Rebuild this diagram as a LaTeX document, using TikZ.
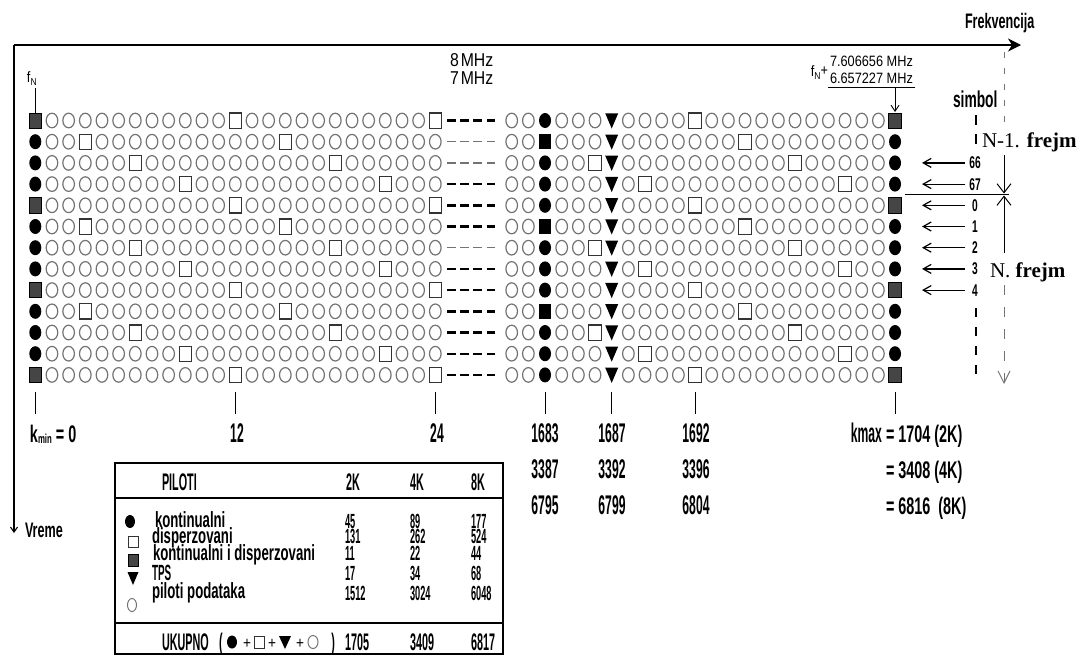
\documentclass[tikz,border=0pt]{standalone}
\usepackage{fontspec}
\setmainfont{Liberation Serif}
\newfontfamily\cnA[FakeStretch=0.45]{Liberation Sans}
\newfontfamily\cnB[FakeStretch=0.6]{Liberation Sans}
\newfontfamily\nar[FakeStretch=0.85]{Liberation Sans}
\usetikzlibrary{arrows.meta}
\newcommand\fA[1]{\cnA\bfseries\fontsize{#1}{#1}\selectfont}
\newcommand\fB[1]{\cnB\bfseries\fontsize{#1}{#1}\selectfont}
\newcommand\fN[1]{\nar\fontsize{#1}{#1}\selectfont}
\definecolor{dgray}{rgb}{0.27,0.27,0.27}
\definecolor{cgray}{rgb}{0.45,0.45,0.45}
\newcommand\pData[2]{\draw[cgray,line width=1.2pt] (#1,#2) ellipse [x radius=5.8pt, y radius=7.3pt];}
\newcommand\pCont[2]{\fill[black] (#1,#2) ellipse [x radius=6pt, y radius=7.5pt];}
\newcommand\pScat[2]{\draw[black!80,line width=1.2pt,fill=white] (#1-6.2,#2-7.6) rectangle (#1+6.2,#2+7.6);}
\newcommand\pBoth[2]{\draw[black,line width=0.8pt,fill=dgray] (#1-6.3,#2-7.6) rectangle (#1+6.3,#2+7.6);}
\newcommand\pBlk[2]{\fill[black] (#1-6.3,#2-7.6) rectangle (#1+6.3,#2+7.6);}
\newcommand\pTps[2]{\fill[black] (#1-6.5,#2-7.2) -- (#1+6.5,#2-7.2) -- (#1,#2+8) -- cycle;}
\begin{document}
\begin{tikzpicture}[x=1pt,y=-1pt,
  lbl/.style={inner sep=0pt,outer sep=0pt},
  axis/.style={line width=1.2pt},
  tick/.style={line width=1pt},
  barb/.style={-{Straight Barb[length=8pt,width=9pt]}},
  bigbarb/.style={-{Straight Barb[length=9pt,width=14pt]}},
  boldgap/.style={line width=2.4pt,dash pattern=on 8.5pt off 4.7pt},
  thingap/.style={line width=1.2pt,cgray,dash pattern=on 8.5pt off 4.7pt}]
\useasboundingbox (0,0) rectangle (1088,657);
\fill[white] (0,0) rectangle (1088,657);

% axes
\coordinate (o) at (14,45);
\coordinate (fx) at (1021,45);
\coordinate (ty) at (14,533);
\draw[axis,-{Stealth[length=13pt,width=13pt,inset=4pt]}] (o) -- (fx);
\draw[line width=1.1pt,-{Straight Barb[length=5pt,width=7pt]}] (o) -- (ty);
\node[lbl,anchor=base west,font=\fB{21}] (frek) at (965,28) {Frekvencija};
\node[lbl,anchor=base west,font=\fB{21}] (vreme) at (25,537) {Vreme};

% grid
\foreach \i in {0,...,12}{
  \pgfmathtruncatemacro\p{mod(\i,4)}
  \pgfmathsetmacro\yy{120.5+21.2*\i}
  \pgfmathtruncatemacro\tp{3*\p}
  \foreach \k in {0,...,24}{
    \pgfmathsetmacro\xx{35.3+16.667*\k}
    \pgfmathtruncatemacro\m{mod(\k,12)}
    \ifnum\k=0
      \ifnum\p=0 \pBoth{\xx}{\yy}\else\pCont{\xx}{\yy}\fi
    \else
      \ifnum\m=\tp \pScat{\xx}{\yy}\else\pData{\xx}{\yy}\fi
    \fi
  }
  \foreach \j in {0,...,23}{
    \pgfmathsetmacro\xx{511.7+16.667*\j}
    \pgfmathtruncatemacro\m{mod(\j+1,12)}
    \ifnum\j=2
      \ifnum\p=1 \pBlk{\xx}{\yy}\else\pCont{\xx}{\yy}\fi
    \else\ifnum\j=6
      \pTps{\xx}{\yy}
    \else\ifnum\j=23
      \ifnum\p=0 \pBoth{\xx}{\yy}\else\pCont{\xx}{\yy}\fi
    \else
      \ifnum\m=\tp \pScat{\xx}{\yy}\else\pData{\xx}{\yy}\fi
    \fi\fi\fi
  }
}
\foreach \i in {0,3,4,5,7,8,9,10,11,12}{
  \pgfmathsetmacro\yy{120.5+21.2*\i}
  \draw[boldgap] (447,\yy) -- (495.5,\yy);
}
\foreach \i in {1,2,6}{
  \pgfmathsetmacro\yy{120.5+21.2*\i}
  \draw[thingap] (447,\yy) -- (495.5,\yy);
}

% fN left
\node[lbl,anchor=base west,font=\fN{15}] (fnl) at (27,82) {f\raisebox{-3pt}{\fontsize{10}{10}\selectfont N}};
\coordinate (fna) at (35.3,88);
\coordinate (fnb) at (35.3,113);
\draw[tick] (fna) -- (fnb);

% MHz
\node[lbl,anchor=base west,font=\fN{18.6}] (m8) at (450,66.5) {8\hspace{2pt}MHz};
\node[lbl,anchor=base west,font=\fN{18.6}] (m7) at (450,84.5) {7\hspace{2pt}MHz};
\node[lbl,anchor=base east,font=\fN{15}] (fnr) at (828,76) {f\raisebox{-3pt}{\fontsize{10}{10}\selectfont N}\raisebox{1pt}{+}};
\node[lbl,anchor=base west,font=\fN{15}] (fa) at (830,66.5) {7.606656 MHz};
\node[lbl,anchor=base west,font=\fN{15}] (fb) at (830,83) {6.657227 MHz};
\coordinate (ula) at (828,87.5);
\coordinate (ulb) at (915,87.5);
\coordinate (ulc) at (895,87.5);
\coordinate (uld) at (895,112);
\draw[tick] (ula) -- (ulb);
\draw[line width=0.9pt,-{Straight Barb[length=6pt,width=8pt]}] (ulc) -- (uld);

% ticks and labels
\foreach \x/\n in {35.3/t0,235.3/t12,435.3/t24,545/t1683,611.7/t1687,695/t1692,895/t1704}{
  \coordinate (\n a) at (\x,392);
  \coordinate (\n b) at (\x,414);
  \draw[tick] (\n a) -- (\n b);
}
\node[lbl,anchor=base west,font=\fB{24}] (kmin) at (30,442) {k\raisebox{-1.5pt}{\fontsize{13}{13}\selectfont min} = 0};
\node[lbl,anchor=base,font=\fA{27}] (l12) at (237,442) {12};
\node[lbl,anchor=base,font=\fA{27}] (l24) at (437,442) {24};
\node[lbl,anchor=base,font=\fA{27}] (l1683) at (545,442) {1683};
\node[lbl,anchor=base,font=\fA{27}] (l3387) at (545,478) {3387};
\node[lbl,anchor=base,font=\fA{27}] (l6795) at (545,514) {6795};
\node[lbl,anchor=base,font=\fA{27}] (l1687) at (612,442) {1687};
\node[lbl,anchor=base,font=\fA{27}] (l3392) at (612,478) {3392};
\node[lbl,anchor=base,font=\fA{27}] (l6799) at (612,514) {6799};
\node[lbl,anchor=base,font=\fA{27}] (l1692) at (696,442) {1692};
\node[lbl,anchor=base,font=\fA{27}] (l3396) at (696,478) {3396};
\node[lbl,anchor=base,font=\fA{27}] (l6804) at (696,514) {6804};
\node[lbl,anchor=base east,font=\fA{27}] (kmax) at (882,442) {kmax};
\node[lbl,anchor=base west,font=\fB{24}] (k2) at (886,442) {= 1704 (2K)};
\node[lbl,anchor=base west,font=\fB{24}] (k4) at (886,478) {= 3408 (4K)};
\node[lbl,anchor=base west,font=\fB{24}] (k8) at (886,514) {= 6816\ \ (8K)};

% right side: symbol markers
\node[lbl,anchor=base west,font=\fB{23}] (simb) at (953,107) {simbol};
\draw[line width=2.4pt,dash pattern=on 10pt off 9pt] (976,115) -- (976,148);
\draw[line width=2.4pt,dash pattern=on 9pt off 10pt] (976,308) -- (976,384);
\draw[line width=1pt,cgray,dash pattern=on 6pt off 10pt] (1004,52) -- (1004,124);
\node[lbl,anchor=base west,font=\fontsize{21}{21}\selectfont] (nf1) at (982,147) {N-1. \textbf{frejm}};
\node[lbl,anchor=base west,font=\fontsize{21}{21}\selectfont] (nf0) at (990,277) {N. \textbf{frejm}};
\coordinate (fa1) at (1004,155);
\coordinate (fa2) at (1004,193.5);
\coordinate (fa3) at (1004,253);
\coordinate (fa4) at (1004,195.5);
\coordinate (hl1) at (905,194.5);
\coordinate (hl2) at (1009,194.5);
\coordinate (fd1) at (1004,285);
\coordinate (fd2) at (1004,384);
\draw[line width=1pt,bigbarb] (fa1) -- (fa2);
\draw[line width=1pt,bigbarb] (fa3) -- (fa4);
\draw[line width=1pt] (hl1) -- (hl2);
\draw[line width=1pt,cgray,dash pattern=on 10pt off 12pt,-{Straight Barb[length=12pt,width=12pt]}] (fd1) -- (fd2);
\foreach \lab/\r in {66/2,67/3,0/4,1/5,2/6,3/7,4/8}{
  \pgfmathsetmacro\yy{120.5+21.2*\r}
  \node[lbl,anchor=base,font=\fB{17}] (s\lab) at (975,\yy+6) {\lab};
  \coordinate (sa\lab) at (965,\yy);
  \coordinate (sb\lab) at (922,\yy);
  \draw[line width=1.2pt,barb] (sa\lab) -- (sb\lab);
}

% table
\draw[line width=1.2pt] (115,463) rectangle (503,654);
\draw[line width=1.2pt] (115,498) -- (503,498);
\draw[line width=1.2pt] (115,623) -- (503,623);
\node[lbl,anchor=base west,font=\fA{24}] (hp) at (162,490) {PILOTI};
\node[lbl,anchor=base west,font=\fA{24}] (h2) at (346,490) {2K};
\node[lbl,anchor=base west,font=\fA{24}] (h4) at (410,490) {4K};
\node[lbl,anchor=base west,font=\fA{24}] (h8) at (471,490) {8K};
\fill[black] (130,521.5) ellipse [x radius=5pt, y radius=6.5pt];
\draw[black!80,line width=1pt,fill=white] (128,536) rectangle (138,547);
\draw[black,line width=0.8pt,fill=dgray] (128,554) rectangle (138,566);
\fill[black] (127.5,572) -- (138.5,572) -- (133,585) -- cycle;
\draw[cgray,line width=1pt] (132,605) ellipse [x radius=4.5pt, y radius=6.5pt];
\node[lbl,anchor=base west,font=\fB{22}] (r1) at (155,527) {kontinualni};
\node[lbl,anchor=base west,font=\fB{22}] (r2) at (152,543) {disperzovani};
\node[lbl,anchor=base west,font=\fB{22}] (r3) at (153,560) {kontinualni i disperzovani};
\node[lbl,anchor=base west,font=\fA{22}] (r4) at (152,580) {TPS};
\node[lbl,anchor=base west,font=\fB{22}] (r5) at (152,598) {piloti podataka};
\foreach \y/\a/\b/\c/\n in {528/45/89/177/a,543/131/262/524/b,560/11/22/44/c,580/17/34/68/d,600/1512/3024/6048/e}{
  \node[lbl,anchor=base west,font=\fA{20.5}] (v2\n) at (345,\y) {\a};
  \node[lbl,anchor=base west,font=\fA{20.5}] (v4\n) at (410,\y) {\b};
  \node[lbl,anchor=base west,font=\fA{20.5}] (v8\n) at (471,\y) {\c};
}
\node[lbl,anchor=base west,font=\fA{24}] (uk) at (162,650) {UKUPNO};
\node[lbl,anchor=base west,font=\fA{24}] (po) at (219,650) {(};
\fill[black] (232,642) ellipse [x radius=5pt, y radius=6.5pt];
\node[lbl,anchor=base,font=\fN{16}] (pl1) at (247,648) {+};
\draw[black!80,line width=1pt] (254,636) rectangle (264,648);
\node[lbl,anchor=base,font=\fN{16}] (pl2) at (272,648) {+};
\fill[black] (279,636) -- (291,636) -- (285,649) -- cycle;
\node[lbl,anchor=base,font=\fN{16}] (pl3) at (300,648) {+};
\draw[cgray,line width=1pt] (313,642) ellipse [x radius=5pt, y radius=6.5pt];
\node[lbl,anchor=base east,font=\fA{24}] (pc) at (335,650) {)};
\node[lbl,anchor=base west,font=\fA{24}] (u2) at (345,650) {1705};
\node[lbl,anchor=base west,font=\fA{24}] (u4) at (410,650) {3409};
\node[lbl,anchor=base west,font=\fA{24}] (u8) at (471,650) {6817};
\end{tikzpicture}
\end{document}
